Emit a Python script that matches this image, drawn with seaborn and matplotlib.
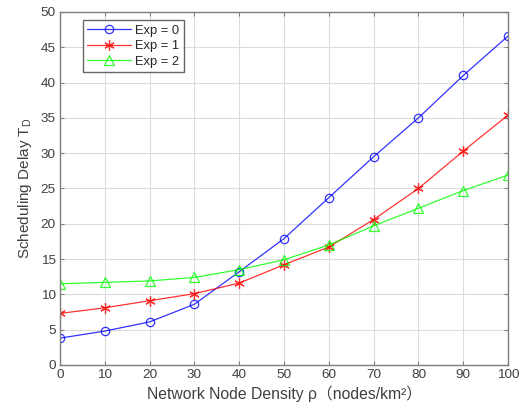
import matplotlib
matplotlib.use("Agg")
import matplotlib.pyplot as plt
import seaborn as sns
import pandas as pd

density = [0, 10, 20, 30, 40, 50, 60, 70, 80, 90, 100]
exp0 = [3.8, 4.8, 6.1, 8.6, 13.2, 17.9, 23.7, 29.5, 35.0, 41.0, 46.6]
exp1 = [7.3, 8.1, 9.1, 10.1, 11.6, 14.2, 16.7, 20.6, 25.0, 30.3, 35.4]
exp2 = [11.5, 11.7, 11.9, 12.4, 13.5, 14.9, 17.0, 19.7, 22.2, 24.7, 26.9]
series_labels = ["Exp = 0", "Exp = 1", "Exp = 2"]
x_ticks = [0, 10, 20, 30, 40, 50, 60, 70, 80, 90, 100]
y_ticks = [0, 5, 10, 15, 20, 25, 30, 35, 40, 45, 50]

sns.set_style("white")
plt.rcParams['font.family'] = ['Liberation Sans', 'Noto Sans CJK SC', 'DejaVu Sans']
plt.rcParams['mathtext.fontset'] = 'custom'
plt.rcParams['mathtext.rm'] = 'Liberation Sans'
plt.rcParams['mathtext.it'] = 'Liberation Sans'

fig = plt.figure(figsize=(5.26, 4.11), dpi=100)
ax = fig.add_axes([0.114, 0.112, 0.852, 0.859])

styles = [("#0000ff", "o", 6.0), ("#ff0000", (6, 2, 0), 7.5), ("#00ff00", "^", 6.5)]
for vals, lab, (c, m, ms) in zip([exp0, exp1, exp2], series_labels, styles):
    df = pd.DataFrame({"x": density, "y": vals})
    sns.lineplot(data=df, x="x", y="y", ax=ax, color=c, marker=m, label=lab,
                 markersize=ms, markerfacecolor="none",
                 markeredgecolor=c, markeredgewidth=0.9, linewidth=0.9, alpha=0.8)

ax.set_xlim(0, 100)
ax.set_ylim(0, 50)
ax.set_xticks(x_ticks)
ax.set_yticks(y_ticks)
ax.grid(True, color="#dcdcdc", linewidth=0.8)
for s in ax.spines.values():
    s.set_color("#7f7f7f")
    s.set_linewidth(1.0)
ax.tick_params(direction="in", length=3, top=True, right=True, bottom=True, left=True,
               colors="#7f7f7f", labelcolor="#404040", labelsize=9.7, pad=3)
ax.set_xlabel("Network Node Density ρ（nodes/km²）", fontsize=11.3, color="#404040", labelpad=3)
ax.set_ylabel("Scheduling Delay T$_D$", fontsize=11, color="#404040", labelpad=5)

leg = ax.legend(loc="upper left", bbox_to_anchor=(0.051, 0.977), fontsize=9.3,
                frameon=True, fancybox=False, borderpad=0.35, labelspacing=0.28,
                handlelength=3.4, handletextpad=0.3, borderaxespad=0.0)
leg.get_frame().set_edgecolor("#404040")
leg.get_frame().set_linewidth(1.0)

fig.savefig("out.png", dpi=100)
